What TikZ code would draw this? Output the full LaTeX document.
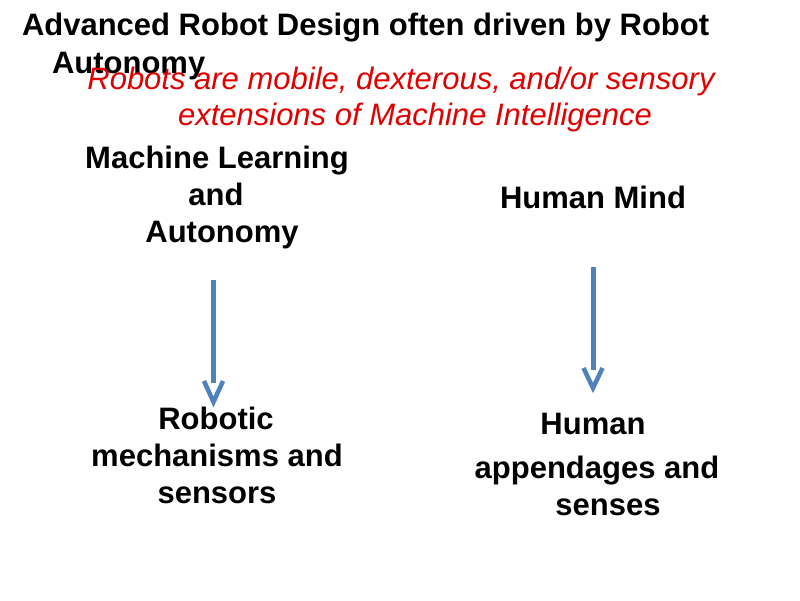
\documentclass[tikz,border=0pt]{standalone}
\usepackage{fontspec}
\setmainfont{Liberation Sans}
\definecolor{arrowblue}{HTML}{4F81BD}
\definecolor{redtext}{HTML}{E00000}
\begin{document}
\begin{tikzpicture}[x=1pt,y=-1pt,
  every node/.style={inner sep=0pt, outer sep=0pt},
  boldtxt/.style={font=\fontsize{31}{37}\selectfont\bfseries, text=black},
  redtxt/.style={font=\fontsize{31}{37}\selectfont\itshape, text=redtext},
  shaft/.style={draw=arrowblue, line width=5pt, line cap=butt},
  vhead/.style={draw=arrowblue, line width=4.5pt, line cap=butt, line join=miter}]
\useasboundingbox (0,0) rectangle (800,600);
\fill[white] (0,0) rectangle (800,600);
% title
\node[boldtxt, anchor=base west] (t1) at (22,35) {Advanced Robot Design often driven by Robot};
\node[boldtxt, anchor=base west] (t2) at (52,73) {Autonomy};
% red subtitle
\node[redtxt, anchor=base] (r1) at (401,89) {Robots are mobile, dexterous, and/or sensory};
\node[redtxt, anchor=base] (r2) at (415,125) {extensions of Machine Intelligence};
% left column
\node[boldtxt, anchor=base] (ml1) at (217,168) {Machine Learning};
\node[boldtxt, anchor=base] (ml2) at (216,205) {and};
\node[boldtxt, anchor=base] (ml3) at (222,242) {Autonomy};
\node[boldtxt, anchor=base] (rm1) at (216,429) {Robotic};
\node[boldtxt, anchor=base] (rm2) at (217,466) {mechanisms and};
\node[boldtxt, anchor=base] (rm3) at (217,503) {sensors};
% right column
\node[boldtxt, anchor=base] (hm) at (593,208) {Human Mind};
\node[boldtxt, anchor=base] (ha1) at (593,434) {Human};
\node[boldtxt, anchor=base] (ha2) at (597,478) {appendages and};
\node[boldtxt, anchor=base] (ha3) at (608,515) {senses};
% left arrow
\coordinate (la) at (213.5,280);
\coordinate (lc) at (213.5,383);
\coordinate (lb) at (213.5,402);
\draw[shaft] (la) -- (lc);
\draw[vhead] ([xshift=-9.5pt,yshift=2pt]lc) -- (lb) -- ([xshift=9.5pt,yshift=2pt]lc);
% right arrow
\coordinate (ra) at (593,267);
\coordinate (rc) at (593,370);
\coordinate (rb) at (593,388);
\draw[shaft] (ra) -- (rc);
\draw[vhead] ([xshift=-9.5pt,yshift=2pt]rc) -- (rb) -- ([xshift=9.5pt,yshift=2pt]rc);
\end{tikzpicture}
\end{document}
